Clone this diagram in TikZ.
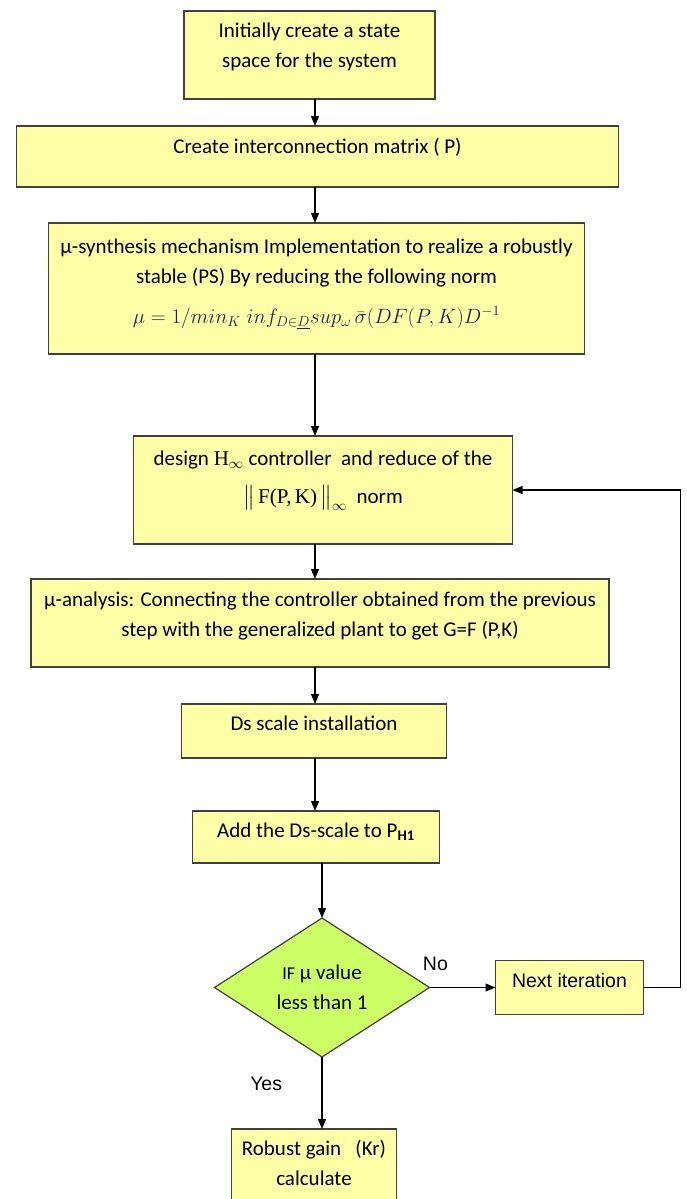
\documentclass[tikz,border=0pt]{standalone}
\usepackage{amsmath}
\usepackage{fontspec}
\setmainfont{Carlito}
\newfontfamily\arialfont{Liberation Sans}
\newfontfamily\timesfont{Liberation Serif}
\usetikzlibrary{arrows.meta,positioning,shapes.geometric}

\definecolor{boxyellow}{RGB}{255,255,168}
\definecolor{testgreen}{RGB}{204,255,102}
\definecolor{formblue}{RGB}{25,35,85}

\begin{document}
\begin{tikzpicture}[x=1pt,y=-1pt,->,>={Triangle[length=10pt,width=8pt]},
                    line width=1.2pt,node distance=30pt,
                    every node/.style={font=\fontsize{21}{30}\selectfont}]
  \tikzstyle{stepbox}=[draw=black!75,fill=boxyellow,align=center,
                       inner xsep=4pt,inner ysep=0pt,outer sep=0pt]
  \tikzstyle{decision}=[diamond,draw=black!75,fill=testgreen,align=center,outer sep=0pt,
                        inner sep=0pt,aspect=1.5,minimum width=215pt,minimum height=139pt]
  \tikzstyle{armark}=[font=\arialfont\fontsize{19.5}{24}\selectfont]

  \useasboundingbox (0,0) rectangle (686,1199);
  \coordinate (axis) at (315,0);

  % boxes: text height = top to last baseline, text depth = the rest
  \node[stepbox,minimum width=251pt,text height=56pt,text depth=32pt,anchor=north] (init) at (309.5,11)
    {Initially create a state\\space for the system};
  \node[stepbox,minimum width=602pt,text height=27pt,text depth=34pt] (inter) [below=27pt of init,xshift=8pt]
    {Create interconnection matrix ( P)};
  \node[stepbox,minimum width=536pt,text height=100pt,text depth=31pt] (synth) [below=36pt of inter,xshift=-1pt]
    {μ-synthesis mechanism Implementation to realize a robustly\\
     stable (PS) By reducing the following norm\\[10pt]
     {\fontsize{22}{30}\selectfont\color{formblue}$\mu = 1/min_K\; inf_{D\in\underline{D}}sup_{\omega}\,\bar{\sigma}(DF(P,K)D^{-1}$}};
  \node[stepbox,minimum width=379pt,text height=67pt,text depth=41pt] (hinf) [below=82pt of synth,xshift=6.5pt]
    {design {\timesfont H}$_{\infty}$ controller\ \ and reduce of the\\[8pt]
     $\big\|$\,{\timesfont F(P,\,K)}\,$\big\|_{\infty}$\ \ norm};
  \node[stepbox,minimum width=578pt,text height=57pt,text depth=31pt] (anal) [below=35pt of hinf,xshift=-3pt]
    {μ-analysis: Connecting the controller obtained from the previous\\
     step with the generalized plant to get G=F (P,K)};
  \node[stepbox,minimum width=265pt,text height=26pt,text depth=28pt] (dscale) [below=37pt of anal,xshift=-6pt]
    {Ds scale installation};
  \node[stepbox,minimum width=247pt,text height=26pt,text depth=26pt] (addds) [below=53pt of dscale,xshift=2pt]
    {Add the Ds-scale to P\textsubscript{\bfseries H1}};
  \node[decision] (test) [below=55pt of addds,xshift=6pt]
    {{\fontsize{18}{30}\selectfont IF} μ value\\less than 1};
  \node[stepbox,armark,minimum width=148pt,text height=27pt,text depth=27pt] (next) [right=66pt of test]
    {Next iteration};
  \node[stepbox,minimum width=165pt,text height=56pt,text depth=30pt] (gain) [below=72pt of test,xshift=-8pt]
    {Robust gain\ \ \ (Kr)\\calculate};

  \draw (init.south -| axis) -- (inter.north -| axis);
  \draw (inter.south -| axis) -- (synth.north -| axis);
  \draw (synth.south -| axis) -- (hinf.north -| axis);
  \draw (hinf.south -| axis) -- (anal.north -| axis);
  \draw (anal.south -| axis) -- (dscale.north -| axis);
  \draw (dscale.south -| axis) -- (addds.north -| axis);
  \draw (addds.south -| test) -- (test);
  \draw (test) -- node[armark,pos=0.09,anchor=base,yshift=16.7pt] (no) {No} (next);
  \draw (test) -- node[armark,pos=0.47,anchor=base east,xshift=-36pt] (yes) {Yes} (test |- gain.north);
  \draw (next.east) -- ++(37,0) |- (hinf.east);
\end{tikzpicture}
\end{document}
